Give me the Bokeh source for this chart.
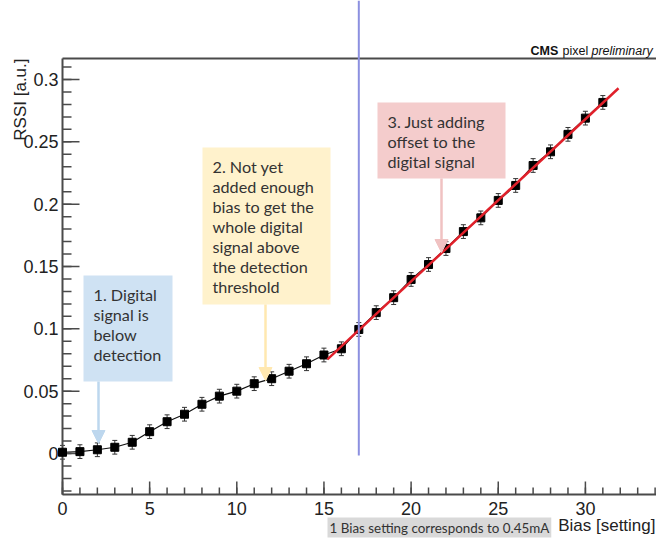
import math
from bokeh.plotting import figure
from bokeh.models import (Range1d, Label, BoxAnnotation, Arrow, NormalHead, Whisker,
                          ColumnDataSource)
from bokeh.core.properties import value
from bokeh.embed import file_html
from bokeh.resources import INLINE

# ---- data ----
bias = list(range(32))
rssi = [0.001, 0.0015, 0.003, 0.005, 0.009, 0.0175, 0.0255, 0.0315, 0.0395, 0.046,
        0.050, 0.056, 0.060, 0.066, 0.072, 0.079, 0.084, 0.0995, 0.113, 0.125,
        0.1396, 0.1516, 0.1644, 0.178, 0.189, 0.203, 0.215, 0.231, 0.242, 0.256,
        0.269, 0.2816]
rssi_err = [0.0055] * 32
fit_x = [15.2, 31.9]
fit_y = [0.0755, 0.293]
threshold_x = 17
y_ticks = [0, 0.05, 0.1, 0.15, 0.2, 0.25, 0.3]
y_tick_labels = ["0", "0.05", "0.1", "0.15", "0.2", "0.25", "0.3"]
y_minor = [round(-0.03 + 0.01 * i, 2) for i in range(35)]
x_ticks = [0, 5, 10, 15, 20, 25, 30]
x_tick_labels = ["0", "5", "10", "15", "20", "25", "30"]
x_minor = list(range(0, 35))

# ---- pixel helpers (page coordinates of the reference) ----
W, H = 656, 539
X0, XS = 62.0, 17.43
Y0, YS = 453.0, 1246.7
def px2x(px):
    return (px - X0) / XS
def py2y(py):
    return (Y0 - py) / YS
def dx(n):
    return n / XS
def dy(n):
    return n / YS

AX = "#4a4a4a"
p = figure(width=W, height=H, output_backend="svg", toolbar_location=None,
           x_range=Range1d(px2x(0), px2x(W)), y_range=Range1d(py2y(H), py2y(0)),
           min_border=0)
p.axis.visible = False
p.outline_line_color = None
p.grid.visible = False
p.background_fill_color = "white"
p.border_fill_color = "white"

x_axis_y = py2y(494)
frame_top = py2y(58)
x_end = px2x(W)

# annotation boxes
boxes = [
    (83, 172, 275, 381, "#cfe2f3", "1. Digital\nsignal is\nbelow\ndetection", 98, 443, "#bdd7ee"),
    (202, 330, 147, 304, "#fff2cc", "2. Not yet\nadded enough\nbias to get the\nwhole digital\nsignal above\nthe detection\nthreshold", 265, 380, "#ffe8b0"),
    (377, 505, 102, 178, "#f4cccc", "3. Just adding\noffset to the\ndigital signal", 441, 252, "#f0c2c2"),
]
for l, r, t, b, col, txt, ax_, tip, acol in boxes:
    p.add_layout(BoxAnnotation(left=px2x(l), right=px2x(r), top=py2y(t), bottom=py2y(b),
                               fill_color=col, fill_alpha=1.0, line_color=None, level="underlay"))
    p.add_layout(Label(x=px2x(l + 10), y=py2y(t + 9), text=txt, text_font="Lato",
                       text_font_size="16.2px", text_color="#333333", text_baseline="top",
                       text_align="left", text_line_height=1.06))
    p.add_layout(Arrow(x_start=px2x(ax_), y_start=py2y(b), x_end=px2x(ax_), y_end=py2y(tip),
                       line_color=acol, line_width=2.5,
                       end=NormalHead(size=13, fill_color=acol, line_color=acol)))

# ---- axes (ROOT style, ticks inside) ----
p.segment(x0=[0], y0=[x_axis_y], x1=[0], y1=[frame_top], line_color=AX, line_width=2)
p.segment(x0=[0], y0=[frame_top], x1=[x_end], y1=[frame_top], line_color=AX, line_width=2)
p.segment(x0=[0], y0=[x_axis_y], x1=[x_end], y1=[x_axis_y], line_color=AX, line_width=2)
p.segment(x0=x_ticks, y0=[x_axis_y] * len(x_ticks), x1=x_ticks,
          y1=[x_axis_y + dy(13)] * len(x_ticks), line_color=AX, line_width=1.5)
p.segment(x0=x_minor, y0=[x_axis_y] * len(x_minor), x1=x_minor,
          y1=[x_axis_y + dy(7)] * len(x_minor), line_color=AX, line_width=1.5)
p.segment(x0=[0] * len(y_ticks), y0=y_ticks, x1=[dx(17)] * len(y_ticks), y1=y_ticks,
          line_color=AX, line_width=1.5)
p.segment(x0=[0] * len(y_minor), y0=y_minor, x1=[dx(9)] * len(y_minor), y1=y_minor,
          line_color=AX, line_width=1.5)
p.text(x=x_ticks, y=[x_axis_y - dy(14)] * len(x_ticks), text=x_tick_labels,
       text_font=value("Liberation Sans"), text_font_size="18px", text_color="#222222",
       text_align="center", text_baseline="middle")
p.text(x=[-dx(4)] * len(y_ticks), y=y_ticks, text=y_tick_labels,
       text_font=value("Liberation Sans"), text_font_size="18px", text_color="#222222",
       text_align="right", text_baseline="middle")

# error bars
src = ColumnDataSource(dict(x=bias, y=rssi,
                            lo=[v - e for v, e in zip(rssi, rssi_err)],
                            hi=[v + e for v, e in zip(rssi, rssi_err)]))
w = Whisker(source=src, base="x", upper="hi", lower="lo", line_color="#333333", line_width=1)
w.upper_head.size = 5
w.lower_head.size = 5
w.upper_head.line_color = "#333333"
w.lower_head.line_color = "#333333"
p.add_layout(w)

p.line(bias, rssi, line_color="#111111", line_width=1.2)
p.scatter(bias, rssi, marker="square", size=8, fill_color="black", line_color="black")
p.line(fit_x, fit_y, line_color="#e0202a", line_width=2.5)
p.segment(x0=[threshold_x], y0=[py2y(0)], x1=[threshold_x], y1=[py2y(455)],
          line_color="#8c90e0", line_width=2)

# texts
p.add_layout(Label(x=px2x(20), y=py2y(58), text="RSSI [a.u.]", angle=math.pi / 2,
                   text_font="Liberation Sans", text_font_size="17px", text_color="#222222",
                   text_align="right", text_baseline="middle"))
p.add_layout(Label(x=px2x(655), y=py2y(525), text="Bias [setting]",
                   text_font="Liberation Sans", text_font_size="17px", text_color="#222222",
                   text_align="right", text_baseline="middle"))
p.add_layout(Label(x=px2x(327), y=py2y(527), text="1 Bias setting corresponds to 0.45mA",
                   text_font="Lato", text_font_size="13.4px", text_color="#333333",
                   text_align="left", text_baseline="middle",
                   background_fill_color="#d9d9d9", padding=2))
p.add_layout(Label(x=px2x(530), y=py2y(50), text="CMS", text_font="Liberation Sans",
                   text_font_size="12.5px", text_font_style="bold", text_color="#111111",
                   text_baseline="alphabetic"))
p.add_layout(Label(x=px2x(562), y=py2y(50), text="pixel", text_font="Liberation Sans",
                   text_font_size="12.5px", text_color="#111111", text_baseline="alphabetic"))
p.add_layout(Label(x=px2x(591), y=py2y(50), text="preliminary", text_font="Liberation Sans",
                   text_font_size="12.5px", text_font_style="italic", text_color="#111111",
                   text_baseline="alphabetic"))

open("out.html", "w").write(file_html(p, INLINE))
